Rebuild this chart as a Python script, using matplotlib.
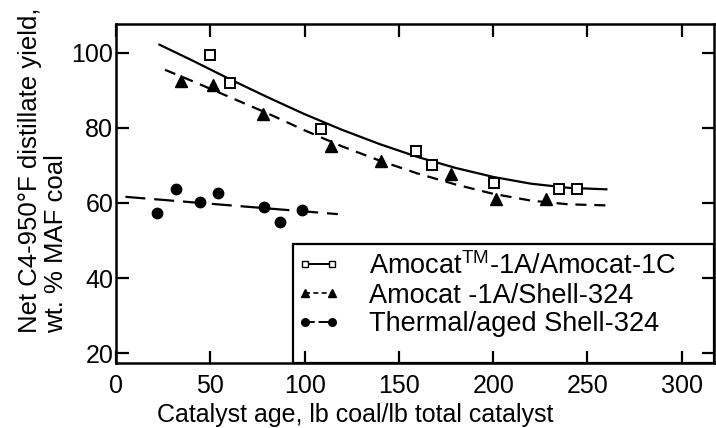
import numpy as np
import matplotlib
matplotlib.use("Agg")
import matplotlib.pyplot as plt
from matplotlib.lines import Line2D
from matplotlib.patches import Rectangle

plt.rcParams["font.family"] = ["Liberation Sans", "DejaVu Sans"]
plt.rcParams["mathtext.fontset"] = "custom"
plt.rcParams["mathtext.rm"] = "Liberation Sans"

# Amocat-1A / Amocat-1C (open squares)
sq_x = [50.1, 60.6, 108.5, 159.1, 167.5, 200.5, 234.9, 244.3]
sq_y = [99.4, 91.9, 79.7, 73.7, 70.1, 65.3, 63.8, 63.8]
sq_fit_x = [23, 40, 60, 80, 100, 120, 140, 160, 180, 200, 220, 240, 260]
sq_fit_y = [102.1, 98.0, 93.0, 88.2, 83.6, 79.4, 75.6, 72.2, 69.3, 66.9, 65.1, 64.0, 63.6]

# Amocat-1A / Shell-324 (filled triangles)
tri_x = [34.3, 51.5, 77.9, 113.8, 140.6, 177.6, 201.4, 228.2]
tri_y = [92.5, 91.3, 83.7, 75.2, 71.1, 67.7, 61.0, 61.1]
tri_fit_x = [26, 40, 60, 80, 100, 120, 140, 160, 180, 200, 220, 240, 262]
tri_fit_y = [95.4, 92.5, 88.2, 83.9, 79.3, 75.0, 71.2, 67.8, 64.9, 62.4, 60.6, 59.6, 59.3]

# Thermal / aged Shell-324 (filled circles)
cir_x = [22.0, 31.7, 44.8, 54.1, 78.5, 86.8, 98.8]
cir_y = [57.3, 63.7, 60.1, 62.6, 58.9, 54.8, 58.0]
cir_fit_x = [5, 117.6]
cir_fit_y = [61.6, 57.0]

labels = [
    r"Amocat$^{\mathrm{TM}}$-1A/Amocat-1C",
    "Amocat -1A/Shell-324",
    "Thermal/aged Shell-324",
]

xticks = [0, 50, 100, 150, 200, 250, 300]
yticks = [20, 40, 60, 80, 100]

fig = plt.figure(figsize=(7.16, 4.28), dpi=100)
ax = fig.add_axes([0.162, 0.152, 0.835, 0.792])

ax.plot(sq_fit_x, sq_fit_y, color="black", linewidth=1.6, linestyle="-")
ax.plot(tri_fit_x, tri_fit_y, color="black", linewidth=1.6, linestyle=(0, (5, 3.5)))
ax.plot(cir_fit_x, cir_fit_y, color="black", linewidth=1.6, linestyle=(0, (9, 4)))

ax.plot(sq_x, sq_y, linestyle="none", marker="s", markersize=6.5,
        markerfacecolor="white", markeredgecolor="black", markeredgewidth=1.4)
ax.plot(tri_x, tri_y, linestyle="none", marker="^", markersize=8,
        color="black")
ax.plot(cir_x, cir_y, linestyle="none", marker="o", markersize=7.5,
        color="black")

ax.set_xlim(0, 317)
ax.set_ylim(17.4, 107.6)
ax.set_xticks(xticks)
ax.set_yticks(yticks)
ax.tick_params(direction="in", length=9, width=1.6, labelsize=18,
               top=True, right=True)
ax.tick_params(axis="x", pad=8)
ax.tick_params(axis="y", pad=2)
for s in ax.spines.values():
    s.set_linewidth(1.8)

ax.set_xlabel("Catalyst age, lb coal/lb total catalyst", fontsize=18)
ax.xaxis.set_label_coords(0.40, -0.118)
fig.text(0.060, 0.222, "Net C4-950\u00b0F distillate yield,\nwt. % MAF coal",
         rotation=90, ha="center", va="bottom", multialignment="left",
         fontsize=18.5, linespacing=1.1)

# legend box, open down to the bottom axis
ax.add_patch(Rectangle((93.8, 17.4), 317 - 93.8, 49.1 - 17.4,
                       fill=False, edgecolor="black", linewidth=1.6,
                       clip_on=False, zorder=3))

handles = [
    Line2D([], [], color="black", linewidth=1.4, linestyle="-", marker="s",
           markersize=5, markerfacecolor="white", markeredgecolor="black"),
    Line2D([], [], color="black", linewidth=1.2, linestyle=(0, (3, 2)),
           marker="^", markersize=5.5),
    Line2D([], [], color="black", linewidth=1.4, linestyle=(0, (5, 2)),
           marker="o", markersize=5.5),
]
ax.legend(handles, labels, loc="upper left", bbox_to_anchor=(0.303, 0.327),
          frameon=False, fontsize=19.5, handlelength=1.6, handletextpad=1.05,
          labelspacing=0.1, borderaxespad=0, borderpad=0, numpoints=2)

fig.savefig("out.png", dpi=100)
